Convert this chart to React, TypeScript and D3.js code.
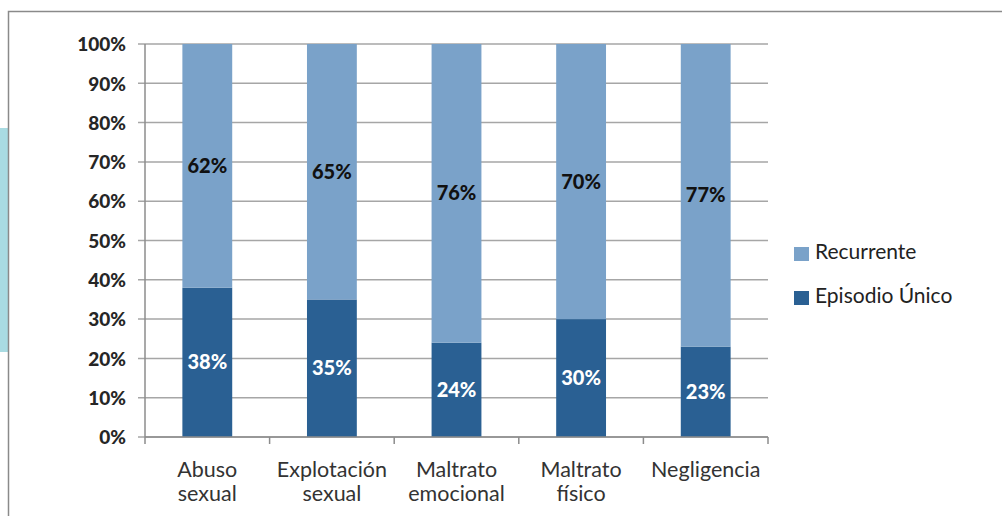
import React from "react";
import * as d3 from "d3";

const categories = [["Abuso", "sexual"], ["Explotación", "sexual"], ["Maltrato", "emocional"], ["Maltrato", "físico"], ["Negligencia"]];
const unico = [38, 35, 24, 30, 23];
const recurrente = [62, 65, 76, 70, 77];
const yTicks = [0, 10, 20, 30, 40, 50, 60, 70, 80, 90, 100];
const seriesNames = ["Recurrente", "Episodio Único"];
const colors = ["#7aa2c9", "#2a6093"];

export default function App() {
  const W = 1002, H = 516;
  const x0 = 145, x1 = 768, yTop = 44, yBot = 437;
  const keys = categories.map((_, i) => String(i));
  const x = d3.scaleBand().domain(keys).range([x0, x1]).paddingInner(0.6).paddingOuter(0.3);
  const xb = d3.scaleBand().domain(keys).range([x0, x1]);
  const y = d3.scaleLinear().domain([0, 100]).range([yBot, yTop]);
  const font = "Lato, 'Open Sans', sans-serif";
  return (
    <svg width={W} height={H} style={{ position: "absolute", left: 0, top: 0, background: "#fff" }}>
      <rect x={0} y={128} width={9} height={224} fill="#a9dbe2" />
      <rect x={8.5} y={11.5} width={W + 10} height={H + 10} fill="none" stroke="#8a8a8a" strokeWidth={1.5} />
      {yTicks.map((t) => (
        <g key={t}>
          <line x1={138} x2={x1} y1={y(t)} y2={y(t)} stroke="#a6a6a6" strokeWidth={1.5} />
          <text x={126} y={y(t)} dy="0.38em" textAnchor="end" fontFamily={font} fontWeight={900} fontSize={19} fill="#262626">{t}%</text>
        </g>
      ))}
      {keys.map((k, i) => {
        const bx = x(k)!;
        const bw = x.bandwidth();
        return (
          <g key={k}>
            <rect x={bx} y={y(unico[i])} width={bw} height={yBot - y(unico[i])} fill={colors[1]} />
            <rect x={bx} y={y(100)} width={bw} height={y(unico[i]) - y(100)} fill={colors[0]} />
            <text x={bx + bw / 2} y={y(unico[i] / 2)} dy="0.35em" textAnchor="middle" fontFamily={font} fontWeight={900} fontSize={20} fill="#fff">{unico[i]}%</text>
            <text x={bx + bw / 2} y={y(unico[i] + recurrente[i] / 2)} dy="0.35em" textAnchor="middle" fontFamily={font} fontWeight={900} fontSize={20} fill="#111">{recurrente[i]}%</text>
          </g>
        );
      })}
      <line x1={x0} x2={x0} y1={yTop} y2={yBot} stroke="#8c8c8c" strokeWidth={1.5} />
      <line x1={x0} x2={x1} y1={yBot} y2={yBot} stroke="#8c8c8c" strokeWidth={1.5} />
      {[...keys.map((k) => xb(k)!), x1].map((px, i) => (
        <line key={i} x1={px} x2={px} y1={yBot} y2={yBot + 7} stroke="#8c8c8c" strokeWidth={1.5} />
      ))}
      {keys.map((k, i) =>
        categories[i].map((line, j) => (
          <text key={k + "-" + j} x={xb(k)! + xb.bandwidth() / 2} y={477 + j * 24} textAnchor="middle" fontFamily={font} fontSize={21.5} fill="#333">{line}</text>
        ))
      )}
      {seriesNames.map((n, i) => (
        <g key={n}>
          <rect x={794} y={247 + i * 44} width={15} height={14} fill={colors[i]} />
          <text x={815} y={259 + i * 44} fontFamily={font} fontSize={21} fill="#222">{n}</text>
        </g>
      ))}
    </svg>
  );
}
